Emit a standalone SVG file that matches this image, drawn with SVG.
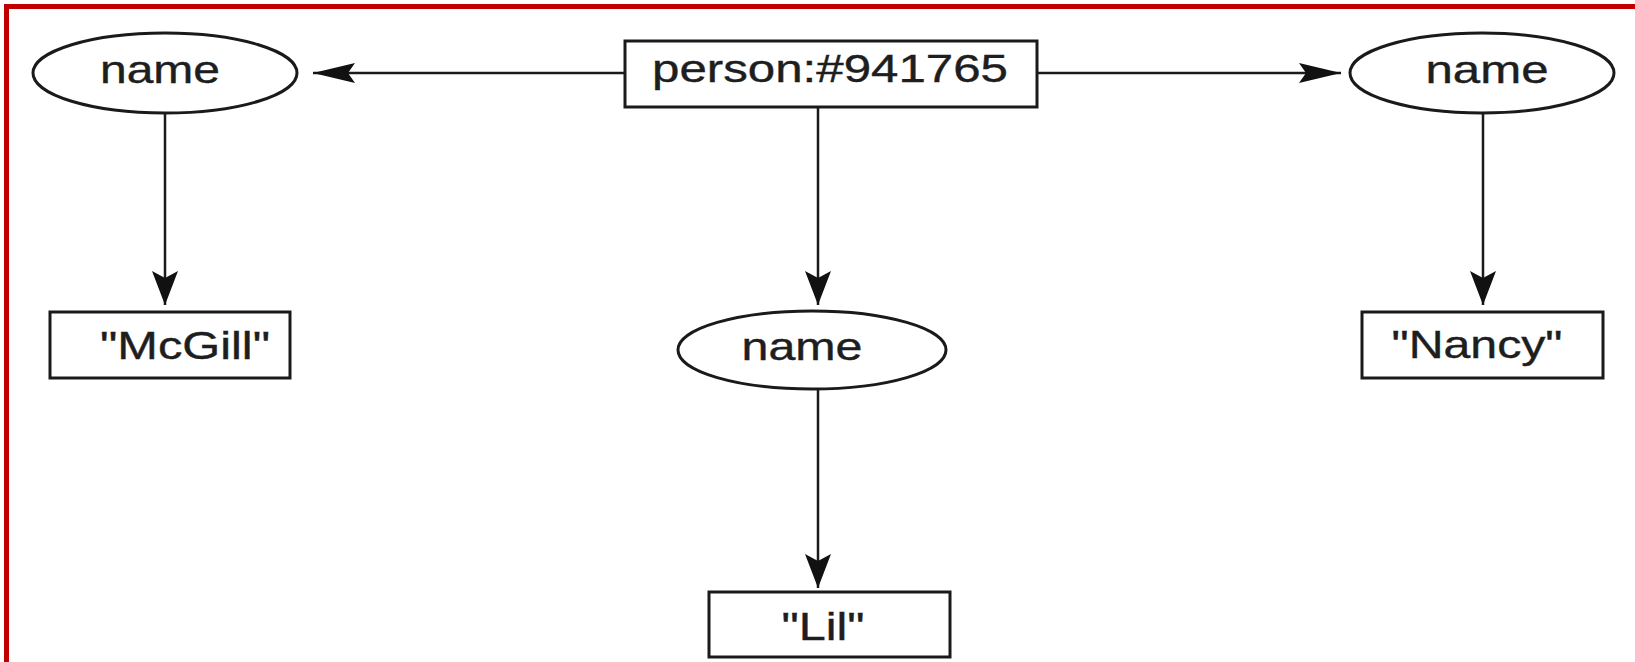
<svg xmlns="http://www.w3.org/2000/svg" width="1635" height="662" viewBox="0 0 1635 662">
  <style>
    .shape { fill: #ffffff; stroke: #1a1a1a; stroke-width: 3; }
    .edge { fill: none; stroke: #1a1a1a; stroke-width: 2.5; }
    .label { font-family: "Liberation Sans", Arial, sans-serif; font-size: 39px; fill: #1e1e1e; stroke: #1e1e1e; stroke-width: 0.4; text-anchor: middle; }
    .frame { stroke: #c00000; stroke-width: 5; fill: none; }
  </style>
  <defs>
    <!-- slim head for horizontal edges -->
    <marker id="arrow" viewBox="-43 -11 45 22" refX="0" refY="0" markerWidth="45" markerHeight="22" markerUnits="userSpaceOnUse" orient="auto">
      <path d="M0,0 L-42,-10 L-35,0 L-42,10 Z" fill="#111111"/>
    </marker>
    <!-- wider head for vertical edges -->
    <marker id="arrow-wide" viewBox="-36 -14 38 28" refX="0" refY="0" markerWidth="38" markerHeight="28" markerUnits="userSpaceOnUse" orient="auto">
      <path d="M0,0 L-34,-13 L-27,0 L-34,13 Z" fill="#111111"/>
    </marker>
  </defs>

  <rect width="1635" height="662" fill="#ffffff"/>

  <!-- red frame: top and left edges -->
  <path class="frame" d="M6.5,662 L6.5,6.5 L1635,6.5"/>

  <!-- connectors -->
  <g id="connectors">
    <line class="edge" x1="625" y1="73" x2="313" y2="73" marker-end="url(#arrow)"/>
    <line class="edge" x1="1037" y1="73" x2="1341" y2="73" marker-end="url(#arrow)"/>
    <line class="edge" x1="165" y1="113" x2="165" y2="305" marker-end="url(#arrow-wide)"/>
    <line class="edge" x1="818" y1="107" x2="818" y2="305" marker-end="url(#arrow-wide)"/>
    <line class="edge" x1="818" y1="389" x2="818" y2="588" marker-end="url(#arrow-wide)"/>
    <line class="edge" x1="1483" y1="113" x2="1483" y2="305" marker-end="url(#arrow-wide)"/>
  </g>

  <g id="person">
    <rect class="shape" x="625" y="41" width="412" height="66"/>
    <text class="label" x="830" y="82" textLength="356" lengthAdjust="spacingAndGlyphs">person:#941765</text>
  </g>

  <g id="name-left">
    <ellipse class="shape" cx="165" cy="73" rx="132" ry="40"/>
    <text class="label" x="160" y="83" textLength="120" lengthAdjust="spacingAndGlyphs">name</text>
  </g>

  <g id="name-right">
    <ellipse class="shape" cx="1482" cy="73" rx="132" ry="40"/>
    <text class="label" x="1487" y="83" textLength="123" lengthAdjust="spacingAndGlyphs">name</text>
  </g>

  <g id="name-middle">
    <ellipse class="shape" cx="812" cy="350" rx="134" ry="39"/>
    <text class="label" x="802" y="360" textLength="121" lengthAdjust="spacingAndGlyphs">name</text>
  </g>

  <g id="value-mcgill">
    <rect class="shape" x="50" y="312" width="240" height="66"/>
    <text class="label" x="185" y="359" textLength="170" lengthAdjust="spacingAndGlyphs">"McGill"</text>
  </g>

  <g id="value-lil">
    <rect class="shape" x="709" y="592" width="241" height="65"/>
    <text class="label" x="823" y="640" textLength="83" lengthAdjust="spacingAndGlyphs">"Lil"</text>
  </g>

  <g id="value-nancy">
    <rect class="shape" x="1362" y="312" width="241" height="66"/>
    <text class="label" x="1477" y="358" textLength="171" lengthAdjust="spacingAndGlyphs">"Nancy"</text>
  </g>
</svg>
